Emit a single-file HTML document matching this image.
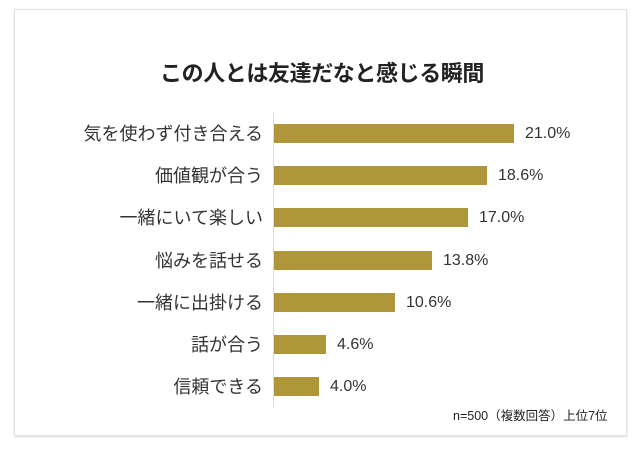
<!DOCTYPE html>
<html><head><meta charset="utf-8"><style>
body{margin:0;background:#fff;width:640px;height:450px;overflow:hidden;font-family:"Liberation Sans","Noto Sans CJK JP",sans-serif;}
.card{position:absolute;left:14px;top:9px;width:611px;height:425px;border:1px solid #e2e2e2;box-shadow:0 1px 2px #ddd;}
.t{position:absolute;left:160px;top:56px;width:324px;text-align:center;font-size:22px;font-weight:bold;color:#222;white-space:nowrap;letter-spacing:-0.4px}
.ax{position:absolute;left:273px;top:112px;width:1px;height:296px;background:#ddd}
.bar{position:absolute;left:274px;height:19px;background:#b0963a}
.lb{position:absolute;right:377px;font-size:18px;color:#333;white-space:nowrap;line-height:20px}
.v{position:absolute;font-size:16px;color:#333;line-height:20px}
.n{position:absolute;left:453px;top:405px;font-size:12.5px;color:#222;white-space:nowrap}
</style></head><body>
<div class="card"></div>
<div class="t">この人とは友達だなと感じる瞬間</div>
<div class="ax"></div>
<div class="bar" style="top:124px;width:240px"></div><div class="lb" style="top:124px">気を使わず付き合える</div><div class="v" style="left:525px;top:124px">21.0%</div>
<div class="bar" style="top:166px;width:213px"></div><div class="lb" style="top:166px">価値観が合う</div><div class="v" style="left:498px;top:166px">18.6%</div>
<div class="bar" style="top:208px;width:194px"></div><div class="lb" style="top:208px">一緒にいて楽しい</div><div class="v" style="left:479px;top:208px">17.0%</div>
<div class="bar" style="top:251px;width:158px"></div><div class="lb" style="top:251px">悩みを話せる</div><div class="v" style="left:443px;top:251px">13.8%</div>
<div class="bar" style="top:293px;width:121px"></div><div class="lb" style="top:293px">一緒に出掛ける</div><div class="v" style="left:406px;top:293px">10.6%</div>
<div class="bar" style="top:335px;width:52px"></div><div class="lb" style="top:335px">話が合う</div><div class="v" style="left:337px;top:335px">4.6%</div>
<div class="bar" style="top:377px;width:45px"></div><div class="lb" style="top:377px">信頼できる</div><div class="v" style="left:330px;top:377px">4.0%</div>
<div class="n">n=500（複数回答）上位7位</div>
</body></html>
